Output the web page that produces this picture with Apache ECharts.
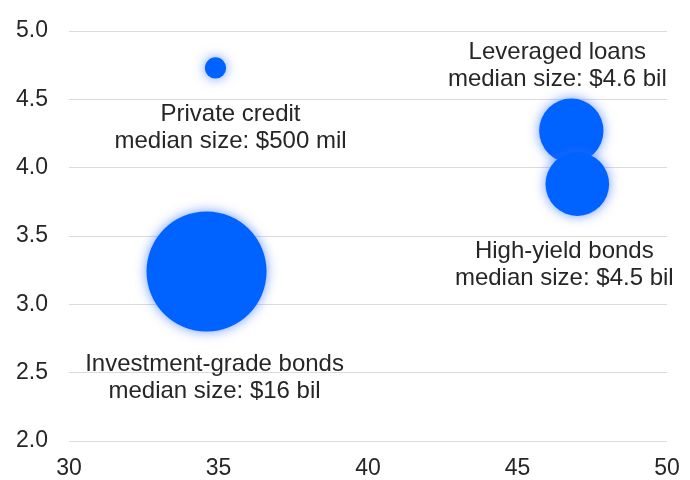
<!DOCTYPE html>
<html>
<head>
<meta charset="utf-8">
<script src="https://cdn.jsdelivr.net/npm/echarts@6/dist/echarts.min.js"></script>
<style>
  html, body { margin: 0; padding: 0; background: #ffffff; }
  #chart { width: 690px; height: 480px; }
</style>
</head>
<body>
<div id="chart"></div>
<script>
// Debt markets: maturity (x) vs. yield-like measure (y), bubble area = median deal size
const markets = ['Private credit', 'Leveraged loans', 'High-yield bonds', 'Investment-grade bonds'];
const xValues = [34.9, 46.8, 47.0, 34.6];
const yValues = [4.73, 4.27, 3.88, 3.24];
const medianSizeBil = [0.5, 4.6, 4.5, 16];
const sizeLabels = ['$500 mil', '$4.6 bil', '$4.5 bil', '$16 bil'];
const xTicks = [30, 35, 40, 45, 50];
const yTicks = [2.0, 2.5, 3.0, 3.5, 4.0, 4.5, 5.0];

// Where each annotation sits relative to its bubble (px)
const labelOffsets = [[15, 60], [-14, -65], [-13, 81], [8, 106]];

const TEXT = '#262626';
const FONT = 'Liberation Sans, Arial, Helvetica, sans-serif';

const points = markets.map((name, i) => ({
  name: name,
  value: [xValues[i], yValues[i], medianSizeBil[i]],
  sizeText: sizeLabels[i],
  label: { offset: labelOffsets[i] }
}));

const chart = echarts.init(document.getElementById('chart'), null, { renderer: 'canvas' });

chart.setOption({
  animation: false,
  backgroundColor: '#ffffff',
  grid: { left: 69, right: 23, top: 31, bottom: 39, containLabel: false },
  xAxis: {
    type: 'value',
    min: xTicks[0],
    max: xTicks[xTicks.length - 1],
    interval: xTicks[1] - xTicks[0],
    axisLine: { show: false },
    axisTick: { show: false },
    splitLine: { show: false },
    axisLabel: { fontSize: 23, color: TEXT, fontFamily: FONT, margin: 16 }
  },
  yAxis: {
    type: 'value',
    min: yTicks[0],
    max: yTicks[yTicks.length - 1],
    interval: yTicks[1] - yTicks[0],
    axisLine: { show: false },
    axisTick: { show: false },
    splitLine: { show: true, lineStyle: { color: '#dcdcdc', width: 1 } },
    axisLabel: {
      fontSize: 23, color: TEXT, fontFamily: FONT, margin: 21,
      formatter: v => v.toFixed(1)
    }
  },
  series: [{
    type: 'scatter',
    data: points,
    // bubble area proportional to median size
    symbolSize: v => 30 * Math.sqrt(v[2]),
    itemStyle: {
      color: '#0062ff',
      opacity: 1,
      shadowBlur: 12,
      shadowColor: 'rgba(50, 110, 255, 0.7)'
    },
    label: {
      show: true,
      position: 'inside',
      align: 'center',
      verticalAlign: 'middle',
      fontSize: 24,
      lineHeight: 27,
      color: TEXT,
      fontFamily: FONT,
      formatter: p => p.name + '\nmedian size: ' + p.data.sizeText
    },
    emphasis: { disabled: true }
  }]
});
</script>
</body>
</html>
